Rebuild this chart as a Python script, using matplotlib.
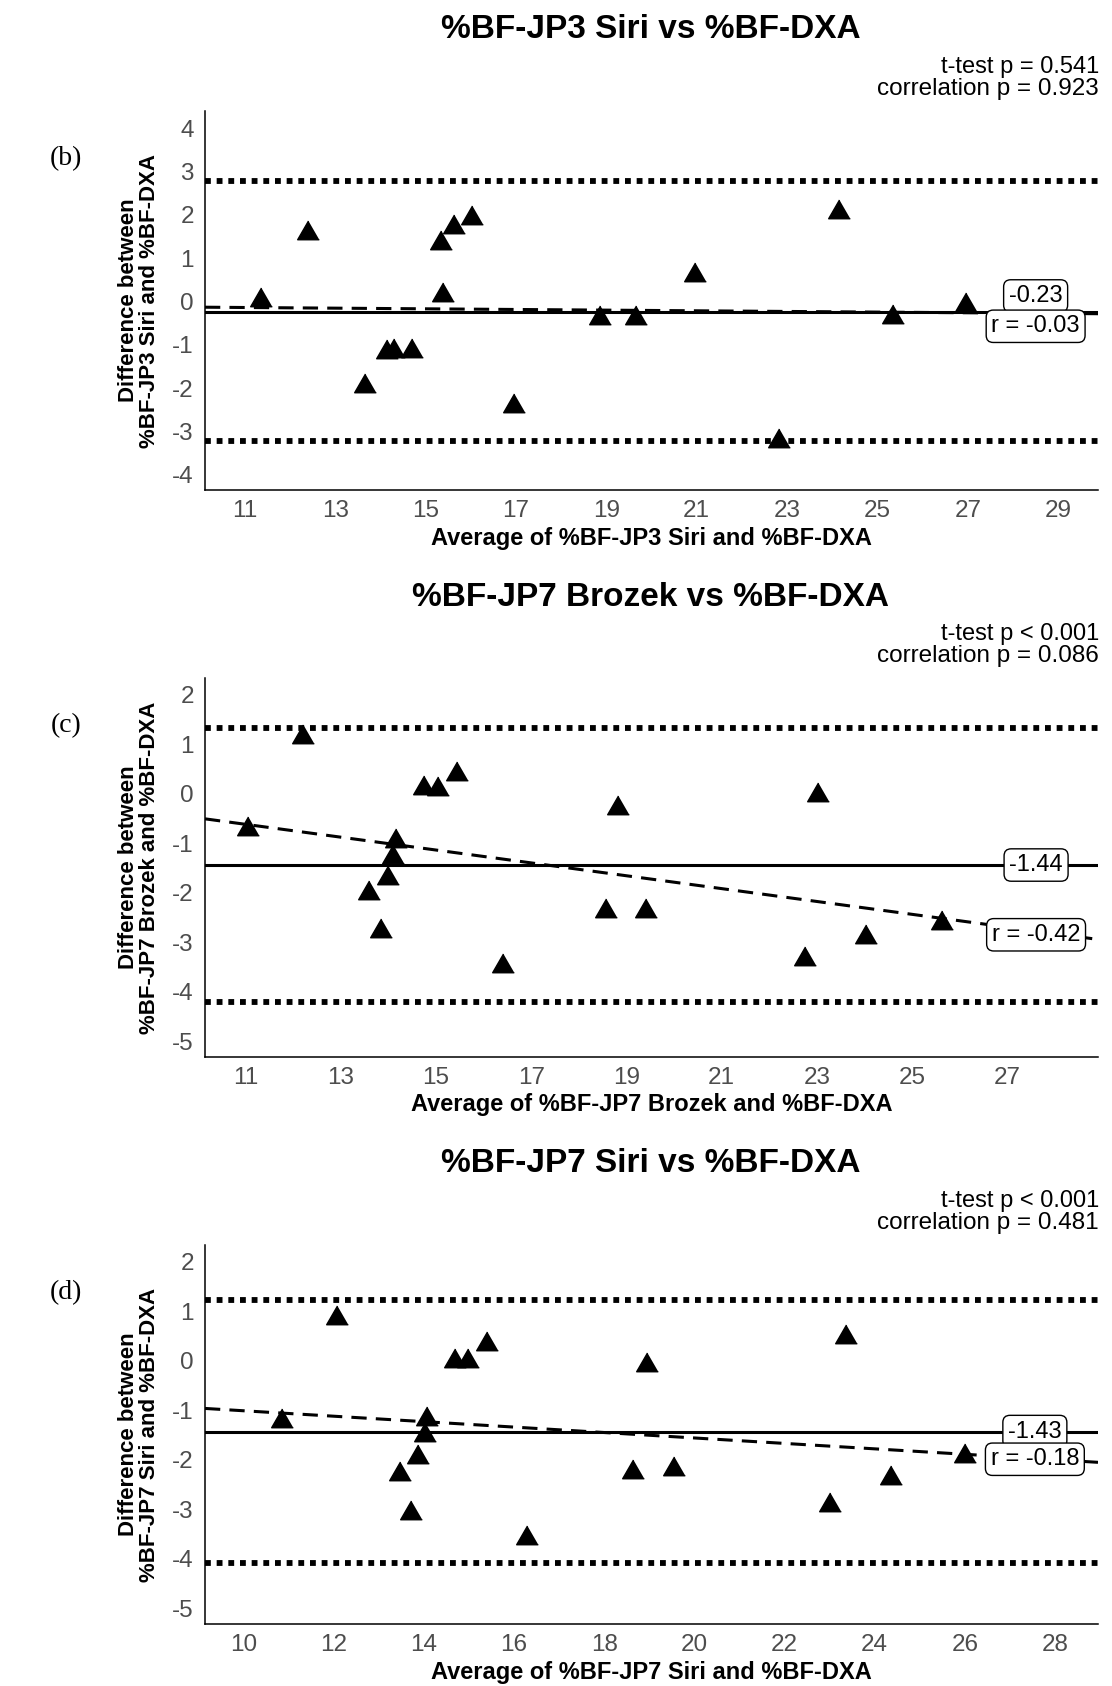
"""Bland-Altman panels (b)-(d): skinfold %BF equations vs %BF-DXA."""

import matplotlib

matplotlib.use("Agg")

import matplotlib.pyplot as plt

plt.rcParams["axes.unicode_minus"] = False

_DPI = 100
_FIGSIZE = (11.12, 16.86)
_FONT = ["Liberation Sans", "DejaVu Sans"]
_TICK_GREY = "#4d4d4d"

# ---- panel (b): JP3 Siri ----
avg_b = [11.35, 12.4, 13.65, 14.15, 14.3, 14.7, 15.35, 15.62, 16.02, 15.38,
         16.96, 18.86, 19.66, 20.96, 22.82, 24.15, 25.35, 26.96]
diff_b = [0.03, 1.58, -1.95, -1.17, -1.13, -1.13, 1.35, 1.72, 1.92, 0.15,
          -2.41, -0.38, -0.38, 0.62, -3.23, 2.06, -0.36, -0.08]
mean_b, loa_b = -0.23, (2.78, -3.22)
fit_b = (-0.053, -0.0076)  # intercept, slope
r_b = -0.03
pvals_b = ("t-test p = 0.541", "correlation p = 0.923")
xlim_b, ylim_b = (10.12, 29.88), (-4.35, 4.4)
xticks_b, yticks_b = list(range(11, 30, 2)), list(range(-4, 5))
labelpos_b = (28.5, 0.13, -0.57)

# ---- panel (c): JP7 Brozek ----
avg_c = [11.05, 12.2, 13.6, 13.85, 14.0, 14.1, 14.15, 14.75, 15.05, 15.45,
         16.4, 18.57, 18.83, 19.4, 23.03, 22.75, 24.02, 25.63]
diff_c = [-0.71, 1.15, -2.01, -2.78, -1.71, -1.28, -0.95, 0.12, 0.09, 0.39,
          -3.48, -2.37, -0.29, -2.37, -0.03, -3.33, -2.9, -2.61]
mean_c, loa_c = -1.44, (1.32, -4.20)
fit_c = (0.813, -0.13)
r_c = -0.42
pvals_c = ("t-test p < 0.001", "correlation p = 0.086")
xlim_c, ylim_c = (10.15, 28.9), (-5.32, 2.34)
xticks_c, yticks_c = list(range(11, 28, 2)), list(range(-5, 3))
labelpos_c = (27.6, -1.44, -2.85)

# ---- panel (d): JP7 Siri ----
avg_d = [10.86, 12.08, 13.48, 13.71, 13.87, 14.02, 14.08, 14.7, 14.98, 15.41,
         16.3, 18.63, 18.95, 19.55, 23.37, 23.0, 24.35, 26.0]
diff_d = [-1.21, 0.87, -2.29, -3.08, -1.95, -1.51, -1.17, 0.0, 0.0, 0.34,
          -3.58, -2.24, -0.08, -2.19, 0.49, -2.92, -2.37, -1.92]
mean_d, loa_d = -1.43, (1.22, -4.08)
fit_d = (-0.46, -0.055)
r_d = -0.18
pvals_d = ("t-test p < 0.001", "correlation p = 0.481")
xlim_d, ylim_d = (9.15, 28.95), (-5.32, 2.34)
xticks_d, yticks_d = list(range(10, 29, 2)), list(range(-5, 3))
labelpos_d = (27.55, -1.43, -1.99)

PANELS = [
    ("(b)", "%BF-JP3 Siri", avg_b, diff_b, mean_b, loa_b, fit_b, r_b, pvals_b,
     xlim_b, ylim_b, xticks_b, yticks_b, labelpos_b),
    ("(c)", "%BF-JP7 Brozek", avg_c, diff_c, mean_c, loa_c, fit_c, r_c, pvals_c,
     xlim_c, ylim_c, xticks_c, yticks_c, labelpos_c),
    ("(d)", "%BF-JP7 Siri", avg_d, diff_d, mean_d, loa_d, fit_d, r_d, pvals_d,
     xlim_d, ylim_d, xticks_d, yticks_d, labelpos_d),
]

# equilateral "filled triangle" like ggplot shape 17
_TRIANGLE = [(0.0, 1.1547), (-1.0, -0.5774), (1.0, -0.5774)]

# layout in pixels (figure is 1112 x 1686)
_W, _H = 1112, 1686
_AX_LEFT, _AX_RIGHT = 205, 1098
_AX_TOP, _AX_BOTTOM = 111, 490
_STEP = 567


def _px(x, y):
    """Pixel position (from top-left) -> figure fraction."""
    return x / _W, 1 - y / _H


def _box(ax, x, y, text):
    ax.text(x, y, text, ha="center", va="center", fontsize=17, family=_FONT,
            bbox=dict(boxstyle="round,pad=0.22,rounding_size=0.3", fc="white",
                      ec="black", lw=1.0), zorder=5)


def draw_panel(fig, k, panel):
    (tag, method, avg, diff, mean, loa, fit, r, pvals,
     xlim, ylim, xticks, yticks, labelpos) = panel
    off = k * _STEP
    left, top = _px(_AX_LEFT, _AX_TOP + off)
    right, bottom = _px(_AX_RIGHT, _AX_BOTTOM + off)
    ax = fig.add_axes([left, bottom, right - left, top - bottom])

    for lim in loa:
        ax.axhline(lim, color="black", lw=4.2, linestyle=(0, (1, 1)),
                   dash_capstyle="butt", zorder=2)
    ax.axhline(mean, color="black", lw=2.2, zorder=2)
    ax.axline((0, fit[0]), slope=fit[1], color="black", lw=2.2,
              linestyle=(0, (5, 3)), zorder=2)
    ax.plot(avg, diff, linestyle="none", marker=_TRIANGLE, ms=18,
            color="black", zorder=3)

    lx, ly_mean, ly_r = labelpos
    _box(ax, lx, ly_mean, f"{mean:.2f}")
    _box(ax, lx, ly_r, f"r = {r:.2f}")

    ax.set_xlim(*xlim)
    ax.set_ylim(*ylim)
    ax.set_xticks(xticks)
    ax.set_yticks(yticks)
    ax.tick_params(length=0, labelsize=17.5, colors=_TICK_GREY)
    ax.tick_params(axis="x", pad=7.5)
    ax.tick_params(axis="y", pad=8)
    for lbl in ax.get_xticklabels() + ax.get_yticklabels():
        lbl.set_family(_FONT)
    for side in ("top", "right"):
        ax.spines[side].set_visible(False)
    for side in ("left", "bottom"):
        ax.spines[side].set_linewidth(1.1)

    height = _AX_BOTTOM - _AX_TOP
    ax.set_xlabel(f"Average of {method} and %BF-DXA", fontsize=17,
                  fontweight="bold", family=_FONT)
    ax.xaxis.label.set_verticalalignment("center")
    ax.xaxis.set_label_coords(0.5, -(538 - _AX_BOTTOM) / height)
    ax.set_ylabel(f"Difference between\n{method} and %BF-DXA", fontsize=16,
                  fontweight="bold", family=_FONT, linespacing=1.0)
    ax.yaxis.label.set_verticalalignment("center")
    ax.yaxis.set_label_coords((139 - _AX_LEFT) / (_AX_RIGHT - _AX_LEFT), 0.5)

    fig.text(*_px(651, 30 + off), f"{method} vs %BF-DXA", ha="center",
             va="center", fontsize=24, fontweight="bold", family=_FONT)
    fig.text(*_px(1099, 67 + off), pvals[0], ha="right", va="center",
             fontsize=17, family=_FONT)
    fig.text(*_px(1099, 89 + off), pvals[1], ha="right", va="center",
             fontsize=17.5, family=_FONT)
    fig.text(*_px(66, 159 + off), tag, ha="center", va="center",
             fontsize=20, family=["Liberation Serif", "DejaVu Serif"])
    return ax


fig = plt.figure(figsize=_FIGSIZE, dpi=_DPI)
for k, panel in enumerate(PANELS):
    draw_panel(fig, k, panel)
fig.savefig("out.png", dpi=_DPI, facecolor="white")
plt.close(fig)
